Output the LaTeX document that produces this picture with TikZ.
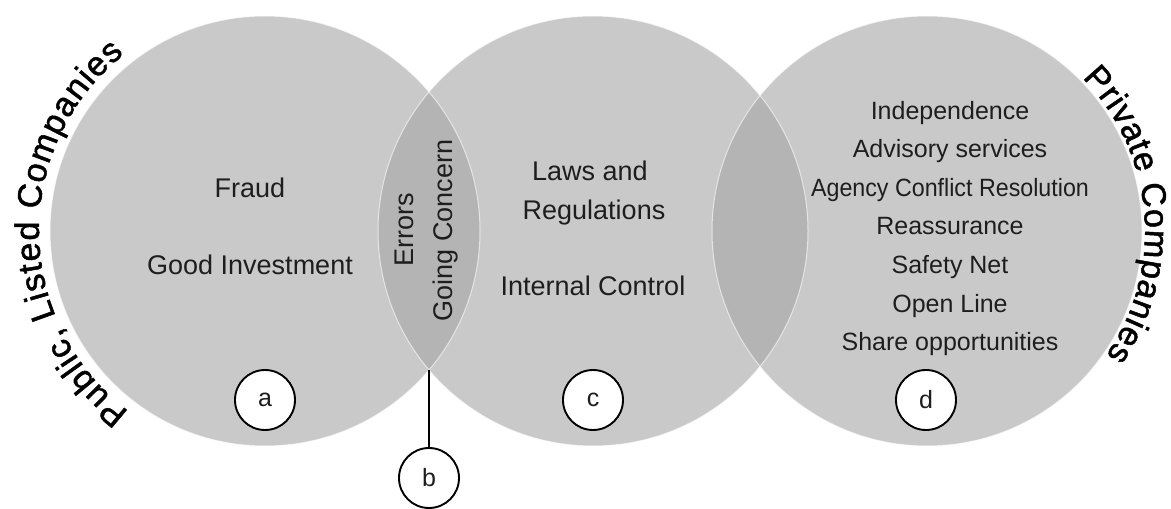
\documentclass[tikz,border=0pt]{standalone}
\usepackage{fontspec}
\setmainfont{Liberation Sans}
\newfontfamily\arcfont{Liberation Sans}[FakeBold=1.5]
\usetikzlibrary{decorations.text}
\definecolor{ringfill}{HTML}{C9C9C9}
\definecolor{lensfill}{HTML}{B4B4B4}
\definecolor{inktext}{HTML}{1E1E1E}

\begin{document}
\begin{tikzpicture}[x=1pt,y=1pt,
  txtbig/.style={font=\fontsize{27}{27}\selectfont, anchor=base, text=inktext, inner sep=0pt},
  txtlist/.style={font=\fontsize{25}{25}\selectfont, anchor=base, text=inktext, inner sep=0pt},
  tag/.style={circle, draw=black, line width=1.9pt, fill=white, minimum size=60pt,
              inner sep=0pt, font=\fontsize{25}{25}\selectfont, text=inktext},
  rim/.style={draw=white, line width=1pt, opacity=0.6}]
\useasboundingbox (0,0) rectangle (1171,509);

% circle centres
\coordinate (L) at (265,278);
\coordinate (M) at (593,278);
\coordinate (R) at (927,278);

% discs
\fill[ringfill] (L) circle[radius=215];
\fill[ringfill] (M) circle[radius=215];
\fill[ringfill] (R) circle[radius=215];

% overlapping lenses
\begin{scope}
  \clip (L) circle[radius=215];
  \fill[lensfill] (M) circle[radius=215];
\end{scope}
\begin{scope}
  \clip (M) circle[radius=215];
  \fill[lensfill] (R) circle[radius=215];
\end{scope}

% thin rims
\draw[rim] (L) circle[radius=215];
\draw[rim] (M) circle[radius=215];
\draw[rim] (R) circle[radius=215];

% curved titles
\path[decorate, decoration={text along path, text align=fit to path,
      text={|\arcfont\fontsize{34}{34}\selectfont|Public{,} Listed Companies}}]
  (L) ++(233:226) arc[start angle=233, end angle=128.5, radius=226];
\path[decorate, decoration={text along path, text align=fit to path,
      text={|\arcfont\fontsize{34}{34}\selectfont|Private Companies}}]
  (R) ++(44.6:218) arc[start angle=44.6, end angle=-34.8, radius=218];

% left disc
\node[txtbig] (fraud) at (250,311) {Fraud};
\node[txtbig] (goodinv) at (250,234) {Good Investment};

% left/middle lens
\node[txtbig, rotate=90] (errors) at (413,279) {Errors};
\node[txtbig, rotate=90] (going) at (452,278.5) {Going Concern};

% middle disc
\node[txtbig] (laws) at (590,328) {Laws and};
\node[txtbig] (regs) at (594,289) {Regulations};
\node[txtbig] (ictrl) at (593,213) {Internal Control};

% right disc
\node[txtlist] (indep) at (950,389) {Independence};
\node[txtlist] (advis) at (950,351) {Advisory services};
\node[txtlist] (agency) at (950,312) {\scalebox{0.93}[1]{Agency Conflict Resolution}};
\node[txtlist] (reass) at (950,274) {Reassurance};
\node[txtlist] (safety) at (950,235) {Safety Net};
\node[txtlist] (openl) at (950,196) {Open Line};
\node[txtlist] (share) at (950,158) {Share opportunities};

% region tags
\node[tag] (a) at (265,109) {a};
\node[tag] (c) at (593,109) {c};
\node[tag] (d) at (926,109) {d};
\node[tag] (b) at (429,31) {b};

% pointer from the lower tip of the left/middle lens
\coordinate (lens) at (429,139);
\draw[line width=1.9pt] (lens) -- (b);
\end{tikzpicture}
\end{document}
